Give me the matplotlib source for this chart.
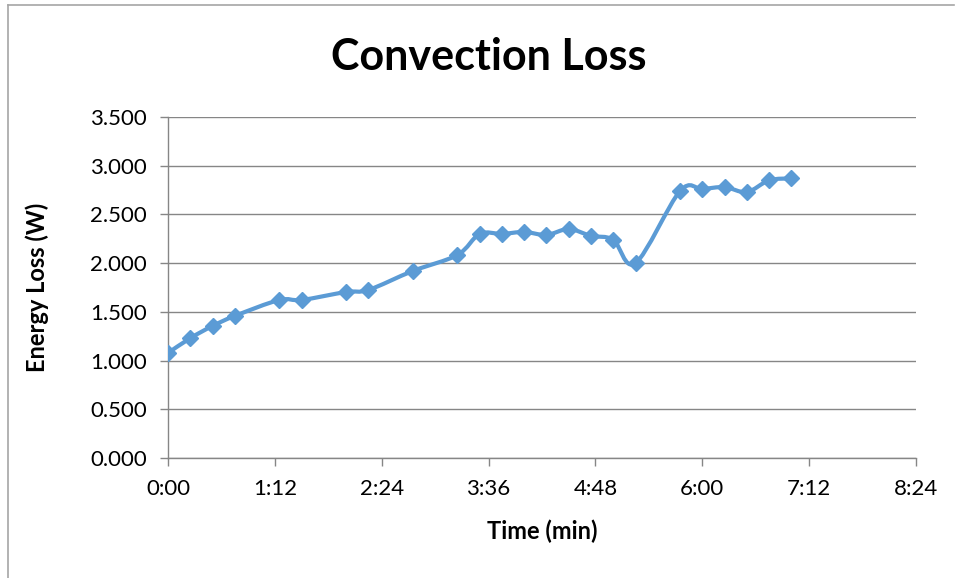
import numpy as np
import matplotlib
matplotlib.use("Agg")
import matplotlib.pyplot as plt
from matplotlib.path import Path
from matplotlib.patches import PathPatch
from matplotlib.lines import Line2D
from matplotlib.ticker import FixedLocator, FuncFormatter

plt.rcParams['font.family'] = ['Lato', 'DejaVu Sans']

# elapsed time in seconds and convection loss in W
t_sec = [0, 15, 30, 45, 75, 90, 120, 135, 165, 195, 210, 225, 240, 255,
         270, 285, 300, 315, 345, 360, 375, 390, 405, 420]
loss_w = [1.078, 1.230, 1.355, 1.458, 1.622, 1.622, 1.704, 1.725, 1.920,
          2.084, 2.300, 2.300, 2.320, 2.290, 2.350, 2.280, 2.240, 2.000,
          2.740, 2.760, 2.780, 2.730, 2.850, 2.870]

x_ticks = [0, 72, 144, 216, 288, 360, 432, 504]
y_ticks = [0, 0.5, 1.0, 1.5, 2.0, 2.5, 3.0, 3.5]

blue = '#5B9BD5'
grid = '#868686'


def smooth_path(x, y):
    # cubic bezier segments with catmull-rom style control points
    x = np.asarray(x, float)
    y = np.asarray(y, float)
    pts = np.column_stack([x, y])
    n = len(pts)
    verts = [pts[0]]
    codes = [Path.MOVETO]
    for i in range(n - 1):
        p0 = pts[i - 1] if i > 0 else pts[i]
        p1 = pts[i]
        p2 = pts[i + 1]
        p3 = pts[i + 2] if i + 2 < n else pts[i + 1]
        c1 = p1 + (p2 - p0) / 6.0
        c2 = p2 - (p3 - p1) / 6.0
        verts += [c1, c2, p2]
        codes += [Path.CURVE4] * 3
    return Path(verts, codes)


fig = plt.figure(figsize=(9.56, 5.78), dpi=100)
ax = fig.add_axes([168 / 956, 1 - 458 / 578, 748 / 956, 341 / 578])

ax.add_patch(PathPatch(smooth_path(t_sec, loss_w), facecolor='none',
                       edgecolor=blue, lw=3.0, zorder=3, capstyle='round',
                       joinstyle='round'))
ax.plot(t_sec, loss_w, ls='none', marker='D', ms=8.5, color=blue, zorder=4)

ax.set_xlim(0, 504)
ax.set_ylim(0, 3.5)
ax.xaxis.set_major_locator(FixedLocator(x_ticks))
ax.yaxis.set_major_locator(FixedLocator(y_ticks))
ax.xaxis.set_major_formatter(FuncFormatter(
    lambda v, p: f"{int(v // 60)}:{int(v % 60):02d}"))
ax.yaxis.set_major_formatter(FuncFormatter(lambda v, p: f"{v:.3f}"))

ax.grid(axis='y', color=grid, lw=1.0)
ax.set_axisbelow(True)
for s in ['top', 'right']:
    ax.spines[s].set_visible(False)
for s in ['left', 'bottom']:
    ax.spines[s].set_color(grid)
    ax.spines[s].set_linewidth(1.0)
ax.tick_params(axis='both', colors=grid, labelcolor='black', labelsize=16,
               length=6, width=1.0, direction='out')
ax.tick_params(axis='x', pad=9)
ax.tick_params(axis='y', pad=9)

ax.set_xlabel('Time (min)', fontsize=17, fontweight='bold', labelpad=15)
ax.set_ylabel('Energy Loss (W)', fontsize=17, fontweight='bold', labelpad=30)
fig.text(489 / 956, 1 - 57 / 578, 'Convection Loss', ha='center',
         va='center', fontsize=31, fontweight='bold')

# chart frame lines
fig.add_artist(Line2D([8 / 956, 8 / 956], [0, 1 - 5 / 578], color='#A6A6A6',
                      lw=1.2, transform=fig.transFigure))
fig.add_artist(Line2D([8 / 956, 954 / 956], [1 - 5 / 578, 1 - 5 / 578],
                      color='#A6A6A6', lw=1.2, transform=fig.transFigure))

fig.savefig('out.png', dpi=100)
